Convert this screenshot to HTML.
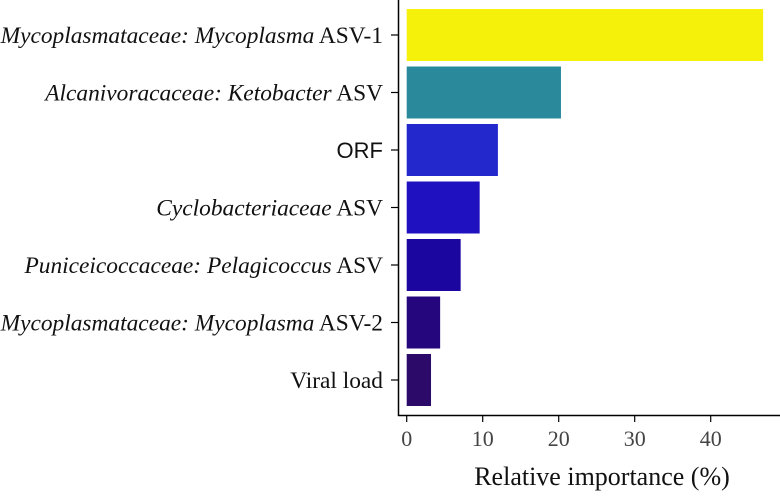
<!DOCTYPE html>
<html><head><meta charset="utf-8"><style>
body{margin:0;background:#fff;}
svg text{font-family:"Liberation Serif",serif;}
</style></head><body>
<svg id="chart" width="780" height="491" viewBox="0 0 780 491">
<g id="bars"></g>
<g id="ylabels"></g>
<g id="xaxis"></g>
<line x1="398.5" y1="0" x2="398.5" y2="416" stroke="#000" stroke-width="1.5"/>
<line x1="398" y1="415.5" x2="780" y2="415.5" stroke="#000" stroke-width="1.5"/>
<text x="602" y="485" font-size="26" text-anchor="middle" fill="#111">Relative importance (%)</text>
</svg>
<script>
const categories=[
 [["Mycoplasmataceae: Mycoplasma",true],[" ASV-1",false]],
 [["Alcanivoracaceae: Ketobacter",true],[" ASV",false]],
 [["ORF",false]],
 [["Cyclobacteriaceae",true],[" ASV",false]],
 [["Puniceicoccaceae: Pelagicoccus",true],[" ASV",false]],
 [["Mycoplasmataceae: Mycoplasma",true],[" ASV-2",false]],
 [["Viral load",false]]
];
const values=[46.9,20.3,12.0,9.6,7.1,4.4,3.2];
const colors=["#f5f10b","#2a8a9c","#2328cc","#1f10c0","#1b069f","#25067c","#2c0a6a"];
const xTicks=[0,10,20,30,40];
const NS="http://www.w3.org/2000/svg";
function xScale(v){return 406.7+v*7.6;}
function yCenter(i){return 35+i*57.5;}
const bandH=52;
const bars=document.getElementById('bars'),yl=document.getElementById('ylabels'),xa=document.getElementById('xaxis');
values.forEach((v,i)=>{
 const r=document.createElementNS(NS,'rect');
 r.setAttribute('x',xScale(0));r.setAttribute('y',yCenter(i)-bandH/2);
 r.setAttribute('width',xScale(v)-xScale(0));r.setAttribute('height',bandH);
 r.setAttribute('fill',colors[i]);
 
 
 bars.appendChild(r);
 const t=document.createElementNS(NS,'line');
 t.setAttribute('x1',391);t.setAttribute('x2',398);t.setAttribute('y1',yCenter(i));t.setAttribute('y2',yCenter(i));
 t.setAttribute('stroke','#000');t.setAttribute('stroke-width','1.2');
 
 
 yl.appendChild(t);
 const tx=document.createElementNS(NS,'text');
 tx.setAttribute('x',383);tx.setAttribute('y',yCenter(i)+8);tx.setAttribute('text-anchor','end');
 tx.setAttribute('font-size','23.4');tx.setAttribute('fill','#111');
 
 
 categories[i].forEach(([s,it])=>{
  const sp=document.createElementNS(NS,'tspan');sp.textContent=s;
  if(it)sp.setAttribute('font-style','italic');
  if(s==="ORF"){sp.setAttribute('style','font-family:"Liberation Sans",sans-serif;font-size:22px');}
  tx.appendChild(sp);
 });
 yl.appendChild(tx);
});
xTicks.forEach(v=>{
 const t=document.createElementNS(NS,'line');
 t.setAttribute('x1',xScale(v));t.setAttribute('x2',xScale(v));t.setAttribute('y1',415);t.setAttribute('y2',422);
 t.setAttribute('stroke','#000');t.setAttribute('stroke-width','1.2');
 
 
 xa.appendChild(t);
 const tx=document.createElementNS(NS,'text');
 tx.setAttribute('x',xScale(v));tx.setAttribute('y',446);tx.setAttribute('text-anchor','middle');
 tx.setAttribute('font-size','22');tx.setAttribute('fill','#444');
 tx.textContent=v;
 
 
 xa.appendChild(tx);
});
</script>
</body></html>
